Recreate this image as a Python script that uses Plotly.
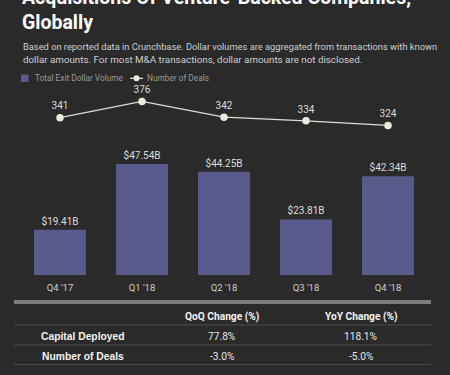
import plotly.graph_objects as go

quarters = ["Q4 '17", "Q1 '18", "Q2 '18", "Q3 '18", "Q4 '18"]
exit_volume = [19.41, 47.54, 44.25, 23.81, 42.34]
deal_counts = [341, 376, 342, 334, 324]
volume_labels = ["$19.41B", "$47.54B", "$44.25B", "$23.81B", "$42.34B"]

table_cols = ["QoQ Change (%)", "YoY Change (%)"]
table_rows = ["Capital Deployed", "Number of Deals"]
table_vals = [["77.8%", "118.1%"], ["-3.0%", "-5.0%"]]

W, H = 450, 375
L, R, T, B = 19, 21, 90, 100
PW, PH = W - L - R, H - T - B

def px(x):
    return (x - L) / PW

def py(y):
    return (H - B - y) / PH

BG = "#2a2a2a"
BAR = "#585a8c"
FONT = "Roboto"

fig = go.Figure()
fig.add_trace(go.Bar(
    x=quarters, y=exit_volume, marker_color=BAR, marker_line_width=0,
    text=volume_labels, textposition="outside", cliponaxis=False,
    textfont=dict(family=FONT, size=10, color="#dcdcdc"),
    name="Total Exit Dollar Volume", yaxis="y",
))
fig.add_trace(go.Scatter(
    x=quarters, y=deal_counts, mode="lines+markers+text",
    text=[str(v) for v in deal_counts], textposition="top center",
    textfont=dict(family=FONT, size=10, color="#dcdcdc"),
    line=dict(color="#e0ddd6", width=1.3),
    marker=dict(size=7.5, color="#efe9dd"),
    name="Number of Deals", yaxis="y2", cliponaxis=False,
))

ann = []
shapes = []

def A(**kw):
    d = dict(xref="paper", yref="paper", showarrow=False)
    d.update(kw)
    ann.append(d)

def S(**kw):
    d = dict(xref="paper", yref="paper")
    d.update(kw)
    shapes.append(d)

# Title
A(text="<b>Acquisitions Of Venture-Backed Companies,</b>", x=px(20), y=py(-2.5), xanchor="left", yanchor="middle",
  font=dict(family=FONT, size=19.5, color="#ffffff"))
A(text="<b>Globally</b>", x=px(20), y=py(22.5), xanchor="left", yanchor="middle",
  font=dict(family=FONT, size=19.5, color="#ffffff"))
A(text="Based on reported data in Crunchbase. Dollar volumes are aggregated from transactions with known",
  x=px(20.5), y=py(46), xanchor="left", yanchor="middle", font=dict(family=FONT, size=9.3, color="#cfcfcf"))
A(text="dollar amounts. For most M&A transactions, dollar amounts are not disclosed.",
  x=px(20.5), y=py(59.5), xanchor="left", yanchor="middle", font=dict(family=FONT, size=9.8, color="#cfcfcf"))
# Legend
S(type="rect", x0=px(21), x1=px(28.5), y0=py(74.5), y1=py(82), fillcolor=BAR, line_width=0)
A(text="Total Exit Dollar Volume", x=px(33), y=py(78.3), xanchor="left", yanchor="middle",
  font=dict(family=FONT, size=8.3, color="#9a9a9a"))
S(type="line", x0=px(130), x1=px(143), y0=py(78.3), y1=py(78.3), line=dict(color="#e0ddd6", width=1.3))
S(type="circle", x0=px(133.5), x1=px(139.5), y0=py(75.3), y1=py(81.3), fillcolor="#efe9dd", line_width=0)
A(text="Number of Deals", x=px(145), y=py(78.3), xanchor="left", yanchor="middle",
  font=dict(family=FONT, size=8.3, color="#9a9a9a"))

# Table
for yy in (301, 303):
    S(type="line", x0=px(14), x1=px(431), y0=py(yy), y1=py(yy), line=dict(color="#cfcfcf", width=1))
for yy in (325, 345, 364.5):
    S(type="line", x0=px(14), x1=px(431), y0=py(yy), y1=py(yy), line=dict(color="#4c4c4c", width=1))
col_x = [222, 361]
row_y = [336, 356]
for cx, name in zip(col_x, table_cols):
    A(text="<b>" + name + "</b>", x=px(cx), y=py(316.5), xanchor="center", yanchor="middle",
      font=dict(family=FONT, size=10.2, color="#f2f2f2"))
for ry, rname, vals in zip(row_y, table_rows, table_vals):
    A(text="<b>" + rname + "</b>", x=px(83), y=py(ry), xanchor="center", yanchor="middle",
      font=dict(family="Liberation Sans", size=10.3, color="#f2f2f2"))
    for cx, v in zip(col_x, vals):
        A(text=v, x=px(cx), y=py(ry), xanchor="center", yanchor="middle",
          font=dict(family=FONT, size=10.2, color="#e6e6e6"))

fig.update_layout(
    width=W, height=H,
    margin=dict(l=L, r=R, t=T, b=B, pad=0),
    paper_bgcolor=BG, plot_bgcolor=BG,
    showlegend=False,
    bargap=0.366,
    xaxis=dict(showgrid=False, zeroline=False, showline=False, ticks="", ticklabelstandoff=5,
               tickfont=dict(family=FONT, size=9.5, color="#cfcfcf"), range=[-0.5, 4.5]),
    yaxis=dict(range=[0, PH / 2.335], visible=False, showgrid=False, zeroline=False),
    yaxis2=dict(range=[0, PH / 0.4615], visible=False, overlaying="y", showgrid=False, zeroline=False),
    annotations=ann, shapes=shapes,
)
fig.write_html("out.html", config={"displayModeBar": False},
               post_script="document.body.style.margin='0';document.body.style.overflow='hidden';")
